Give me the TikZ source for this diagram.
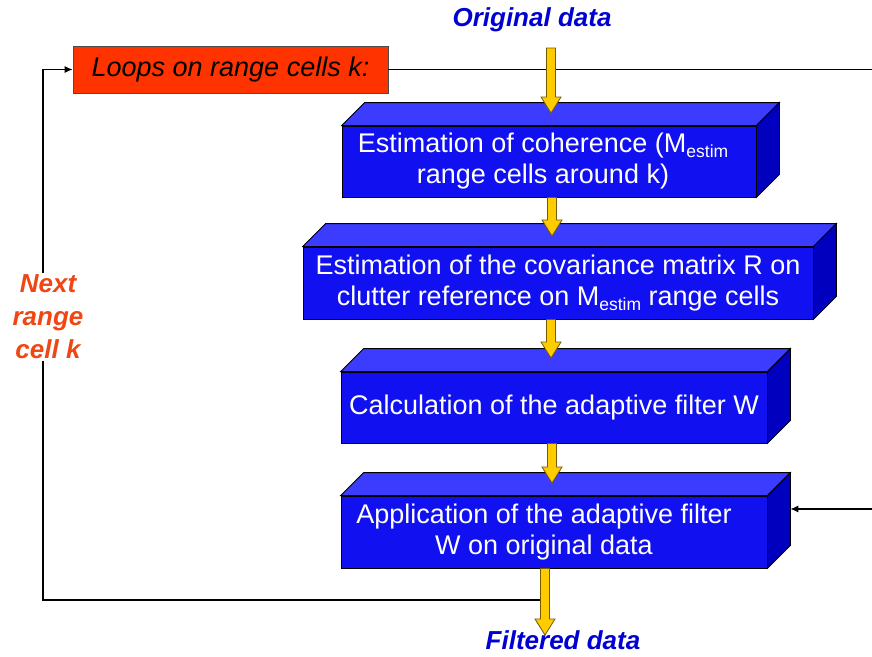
\documentclass[tikz,border=0pt]{standalone}
\usepackage{fontspec}
\setmainfont{Liberation Sans}
\usetikzlibrary{calc,arrows.meta}
\definecolor{frontblue}{RGB}{16,16,240}
\definecolor{topblue}{RGB}{60,60,255}
\definecolor{sideblue}{RGB}{0,0,190}
\definecolor{loopred}{RGB}{255,51,0}
\definecolor{ayellow}{RGB}{255,204,0}
\definecolor{aedge}{RGB}{120,90,0}
\definecolor{txtblue}{RGB}{0,0,210}
\definecolor{nextred}{RGB}{240,70,20}
\newcommand\estim{\raisebox{-5pt}{\fontsize{17.5}{17.5}\selectfont estim}}
\newcommand\boxfaces[1]{%
  \filldraw[fill=topblue,draw=black,line width=0.8pt] (#1.north west) -- ++(23,-23) -- ($(#1.north east)+(23,-23)$) -- (#1.north east) -- cycle;
  \filldraw[fill=sideblue,draw=black,line width=0.8pt] (#1.north east) -- ++(23,-23) -- ($(#1.south east)+(23,-23)$) -- (#1.south east) -- cycle;}
\newcommand\blockarrow[2]{%
  \filldraw[fill=ayellow,draw=aedge,line width=0.8pt] let \p1=(#1), \p2=(#2) in
    (\x2-4.5pt,\y1) -- (\x2-4.5pt,\y2+16pt) -- (\x2-10pt,\y2+16pt) -- (\x2,\y2) -- (\x2+10pt,\y2+16pt) -- (\x2+4.5pt,\y2+16pt) -- (\x2+4.5pt,\y1) -- cycle;}
\tikzset{
  boxf/.style={draw=black, fill=frontblue, text=white, line width=0.8pt, inner sep=0pt, align=center,
    font=\fontsize{27}{31}\selectfont},
  loopbox/.style={draw=black!70, fill=loopred, text=black, line width=0.8pt, inner sep=0pt,
    minimum width=315pt, minimum height=47pt, font=\itshape\fontsize{27}{31}\selectfont},
  datalabel/.style={text=txtblue, font=\bfseries\itshape\fontsize{26}{31}\selectfont, inner sep=0pt},
  nextlabel/.style={text=nextred, fill=white, align=center, inner sep=2pt,
    font=\bfseries\itshape\fontsize{26}{33}\selectfont},
  conn/.style={draw=black, line width=1.1pt},
  tip/.style={-{Latex[length=8pt,width=7pt]}}
}
\begin{document}
\begin{tikzpicture}[x=1pt,y=-1pt]
\useasboundingbox[fill=white] (0,0) rectangle (872,656);

% 3D boxes
\node[boxf, minimum width=414pt, minimum height=71pt] (b1) at (549,161.5) {Estimation of coherence (M\estim\hspace*{12pt}\\range cells around k)\hspace*{12pt}};
\boxfaces{b1}
\node[boxf, minimum width=510pt, minimum height=72pt] (b2) at (558,283) {Estimation of the covariance matrix R on\\clutter reference on M\estim{} range cells};
\boxfaces{b2}
\node[boxf, minimum width=426pt, minimum height=71pt] (b3) at (554,407.5) {Calculation of the adaptive filter W};
\boxfaces{b3}
\node[boxf, minimum width=426pt, minimum height=72pt] (b4) at (554,532) {Application of the adaptive filter\hspace*{20pt}\\W on original data\hspace*{20pt}};
\boxfaces{b4}

% loop box and labels
\node[loopbox] (lp) at (230.5,69.5) {Loops on range cells k:};
\node[datalabel] (od) at (532,20) {Original data};
\node[datalabel] (fd) at (563,640) {Filtered data};

% loop connectors
\coordinate (j) at (545,600);
\coordinate (bl) at (43,600);
\draw[conn,tip] (j) -- (bl) -- (bl |- lp.west) -- (lp.west);
\coordinate (tr) at (872,69.5);
\draw[conn] (lp.east) -- (tr);
\coordinate (rr) at (872,509);
\coordinate (b4back) at ($(b4.north east)+(23,0)$);
\draw[conn,tip] (rr) -- (b4back |- rr);
\node[nextlabel] (nx) at (48,317) {Next\\range\\cell k};

% yellow block arrows
\coordinate (s0) at (551,48);
\coordinate (t1) at (551,113);
\coordinate (t2) at (552,236);
\coordinate (t3) at (551,358);
\coordinate (t4) at (552,483);
\coordinate (t5) at (545,635);
\blockarrow{s0}{t1}
\blockarrow{b1.south}{t2}
\blockarrow{b2.south}{t3}
\blockarrow{b3.south}{t4}
\blockarrow{b4.south}{t5}
\end{tikzpicture}
\end{document}
